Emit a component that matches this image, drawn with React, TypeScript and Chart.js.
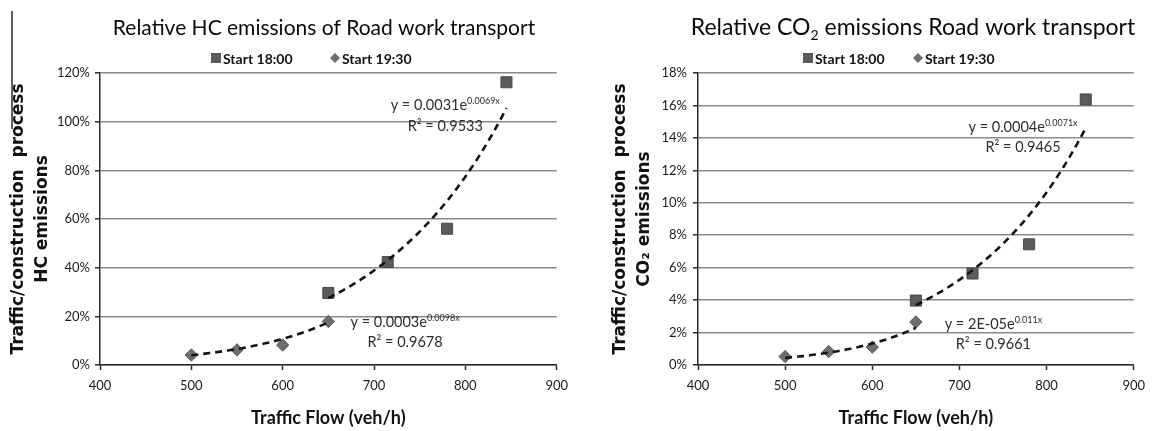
import React, { useEffect, useRef } from 'react';
import { Chart, registerables } from 'chart.js';

Chart.register(...registerables);

// Traffic flow (veh/h) of each measured run
const flowStart1800 = [650, 715, 780, 845];
const flowStart1930 = [500, 550, 600, 650];

// Relative HC emissions (%), traffic / construction process
const hcStart1800 = [29.6, 42.3, 56.0, 116.2];
const hcStart1930 = [4.1, 6.2, 8.2, 17.9];

// Relative CO2 emissions (%), traffic / construction process
const co2Start1800 = [3.97, 5.64, 7.44, 16.37];
const co2Start1930 = [0.52, 0.83, 1.1, 2.65];

// Axis ticks
const flowTicks = [400, 500, 600, 700, 800, 900];
const hcTicks = [0, 20, 40, 60, 80, 100, 120];
const co2Ticks = [0, 2, 4, 6, 8, 10, 12, 14, 16, 18];

// Exponential trend fits y = a·e^(b·x) (y as a fraction)
const hcFit1800 = { a: 0.0031, b: 0.0069, r2: 0.9533 };
const hcFit1930 = { a: 0.0003, b: 0.0098, r2: 0.9678 };
const co2Fit1800 = { a: 0.000375, b: 0.00706, r2: 0.9465 };
const co2Fit1930 = { a: 0.000018, b: 0.011, r2: 0.9661 };

const SQUARE = '#5c5c5c';
const DIAMOND = '#6e6e6e';
const AXIS = '#2a2a2a';
const GRID = '#8a8a8a';

type Fit = { a: number; b: number; r2: number };
type Seg = { t: string; sub?: boolean; sup?: boolean };
type Note = { fit: Fit; x: number; y: number };
type Overlay = {
  title: Seg[];
  titleSize: number;
  titleX: number;
  titleY: number;
  legendX: [number, number];
  legendY: number;
  notes: Note[];
  fractionBar?: boolean;
};

// Excel-style coefficient text
function coef(v: number): string {
  if (v < 1e-4) {
    const [m, e] = v.toExponential(0).split('e');
    const exp = Math.abs(parseInt(e, 10));
    return `${m}E-${String(exp).padStart(2, '0')}`;
  }
  return v.toFixed(4).replace(/0+$/, '');
}

function trendPoints(fit: Fit, flows: number[]) {
  const pts: { x: number; y: number }[] = [];
  const lo = flows[0];
  const hi = flows[flows.length - 1];
  for (let x = lo; x <= hi; x += 5) pts.push({ x, y: 100 * fit.a * Math.exp(fit.b * x) });
  return pts;
}

function drawRich(
  ctx: CanvasRenderingContext2D,
  segs: Seg[],
  cx: number,
  baseline: number,
  size: number,
  weight: string,
  color: string
) {
  const fontFor = (s: Seg) => `${weight} ${s.sub || s.sup ? Math.round(size * 0.62) : size}px Lato`;
  let total = 0;
  const widths = segs.map((s) => {
    ctx.font = fontFor(s);
    const w = ctx.measureText(s.t).width;
    total += w;
    return w;
  });
  let x = cx - total / 2;
  ctx.fillStyle = color;
  ctx.textAlign = 'left';
  ctx.textBaseline = 'alphabetic';
  segs.forEach((s, i) => {
    ctx.font = fontFor(s);
    const dy = s.sub ? size * 0.22 : s.sup ? -size * 0.4 : 0;
    ctx.fillText(s.t, x, baseline + dy);
    x += widths[i];
  });
}

function makeOverlay(o: Overlay) {
  return {
    id: 'overlay',
    afterDraw(chart: any) {
      const ctx: CanvasRenderingContext2D = chart.ctx;
      const xs = chart.scales.x;
      const ys = chart.scales.y;
      ctx.save();

      drawRich(ctx, o.title, o.titleX, o.titleY, o.titleSize, '400', '#0a0a0a');

      chart.data.datasets.slice(0, 2).forEach((ds: any, i: number) => {
        const cx = o.legendX[i];
        const cy = o.legendY;
        ctx.fillStyle = ds.backgroundColor;
        ctx.beginPath();
        if (ds.pointStyle === 'rect') {
          ctx.rect(cx - 5, cy - 5, 10, 10);
        } else {
          ctx.moveTo(cx, cy - 5);
          ctx.lineTo(cx + 5, cy);
          ctx.lineTo(cx, cy + 5);
          ctx.lineTo(cx - 5, cy);
          ctx.closePath();
        }
        ctx.fill();
        ctx.font = 'bold 14px Lato';
        ctx.fillStyle = '#111';
        ctx.textAlign = 'left';
        ctx.textBaseline = 'middle';
        ctx.fillText(ds.label, cx + 7, cy + 1);
      });

      o.notes.forEach((n) => {
        const px = xs.getPixelForValue(n.x);
        const py = ys.getPixelForValue(n.y);
        drawRich(
          ctx,
          [{ t: `y = ${coef(n.fit.a)}e` }, { t: `${coef(n.fit.b)}x`, sup: true }],
          px,
          py,
          14.5,
          '400',
          '#2e2e2e'
        );
        drawRich(ctx, [{ t: `R² = ${n.fit.r2.toFixed(4)}` }], px, py + 20.5, 14.5, '400', '#2e2e2e');
      });

      if (o.fractionBar) {
        ctx.strokeStyle = AXIS;
        ctx.lineWidth = 1.5;
        ctx.beginPath();
        ctx.moveTo(12, 11);
        ctx.lineTo(12, 129);
        ctx.stroke();
      }
      ctx.restore();
    },
  };
}

type Panel = {
  s1800: number[];
  s1930: number[];
  fit1800: Fit;
  fit1930: Fit;
  yTicks: number[];
  yTitle: string[];
  yWidth: number;
  yTitlePad: number;
  yTickPad: number;
  padRight: number;
  overlay: Overlay;
};

function buildConfig(p: Panel): any {
  return {
    type: 'scatter',
    data: {
      datasets: [
        {
          label: 'Start 18:00',
          data: flowStart1800.map((x, i) => ({ x, y: p.s1800[i] })),
          pointStyle: 'rect',
          pointRadius: 7.8,
          pointHoverRadius: 7.8,
          backgroundColor: SQUARE,
          borderColor: '#484848',
          borderWidth: 1,
          order: 2,
        },
        {
          label: 'Start 19:30',
          data: flowStart1930.map((x, i) => ({ x, y: p.s1930[i] })),
          pointStyle: 'rectRot',
          pointRadius: 6.2,
          pointHoverRadius: 6.2,
          backgroundColor: DIAMOND,
          borderColor: '#5a5a5a',
          borderWidth: 1,
          order: 2,
        },
        {
          label: 'Expon. (Start 18:00)',
          data: trendPoints(p.fit1800, flowStart1800),
          showLine: true,
          pointRadius: 0,
          borderColor: '#141414',
          borderWidth: 2.6,
          borderDash: [7, 5],
          fill: false,
          order: 0,
        },
        {
          label: 'Expon. (Start 19:30)',
          data: trendPoints(p.fit1930, flowStart1930),
          showLine: true,
          pointRadius: 0,
          borderColor: '#141414',
          borderWidth: 2.6,
          borderDash: [7, 5],
          fill: false,
          order: 0,
        },
      ],
    },
    options: {
      animation: false,
      responsive: false,
      devicePixelRatio: 1,
      events: [],
      layout: { padding: { left: 0, top: 73, right: p.padRight, bottom: 0 } },
      plugins: { legend: { display: false }, tooltip: { enabled: false }, title: { display: false } },
      scales: {
        x: {
          type: 'linear',
          min: flowTicks[0],
          max: flowTicks[flowTicks.length - 1],
          afterBuildTicks: (s: any) => {
            s.ticks = flowTicks.map((v) => ({ value: v }));
          },
          afterFit: (s: any) => {
            s.height = 66;
          },
          grid: { drawOnChartArea: false, drawTicks: true, tickLength: 5, tickColor: AXIS, tickWidth: 1.5 },
          border: { color: AXIS, width: 1.5 },
          ticks: { font: { family: 'Lato', size: 13 }, color: '#1a1a1a', padding: 8, maxRotation: 0 },
          title: {
            display: true,
            text: 'Traffic Flow (veh/h)',
            font: { family: 'Lato', size: 18, weight: 'bold' },
            color: '#111',
            padding: { top: 0, bottom: 2 },
          },
        },
        y: {
          type: 'linear',
          min: p.yTicks[0],
          max: p.yTicks[p.yTicks.length - 1],
          afterBuildTicks: (s: any) => {
            s.ticks = p.yTicks.map((v) => ({ value: v }));
          },
          afterFit: (s: any) => {
            s.width = p.yWidth;
          },
          grid: { color: GRID, lineWidth: 1.6, drawTicks: true, tickLength: 5, tickColor: AXIS, tickWidth: 1.5 },
          border: { color: AXIS, width: 1.5 },
          ticks: {
            font: { family: 'Lato', size: 13 },
            color: '#1a1a1a',
            padding: p.yTickPad,
            callback: (v: number) => `${v}%`,
          },
          title: {
            display: true,
            text: p.yTitle,
            font: { family: 'DejaVu Sans', size: 17, weight: 'bold', lineHeight: 1.41 },
            color: '#111',
            padding: { top: p.yTitlePad, bottom: 0 },
          },
        },
      },
    },
    plugins: [makeOverlay(p.overlay)],
  };
}

const hcPanel: Panel = {
  s1800: hcStart1800,
  s1930: hcStart1930,
  fit1800: hcFit1800,
  fit1930: hcFit1930,
  yTicks: hcTicks,
  yTitle: ['Traffic/construction  process', 'HC emissions'],
  yWidth: 100,
  yTitlePad: 7,
  yTickPad: 5,
  padRight: 14,
  overlay: {
    title: [{ t: 'Relative HC emissions of Road work transport' }],
    titleSize: 21,
    titleX: 324,
    titleY: 35,
    legendX: [216, 335],
    legendY: 58,
    notes: [
      { fit: hcFit1800, x: 778, y: 104.7 },
      { fit: hcFit1930, x: 734, y: 15.7 },
    ],
    fractionBar: true,
  },
};

const co2Panel: Panel = {
  s1800: co2Start1800,
  s1930: co2Start1930,
  fit1800: co2Fit1800,
  fit1930: co2Fit1930,
  yTicks: co2Ticks,
  yTitle: ['Traffic/construction  process', 'CO₂ emissions'],
  yWidth: 122,
  yTitlePad: 33,
  yTickPad: 6,
  padRight: 18,
  overlay: {
    title: [{ t: 'Relative CO' }, { t: '2', sub: true }, { t: ' emissions Road work transport' }],
    titleSize: 23,
    titleX: 337,
    titleY: 35,
    legendX: [232, 342],
    legendY: 58,
    notes: [
      { fit: co2Fit1800, x: 773, y: 14.39 },
      { fit: co2Fit1930, x: 739, y: 2.23 },
    ],
  },
};

function EmissionChart({ panel, left, width }: { panel: Panel; left: number; width: number }) {
  const ref = useRef<HTMLCanvasElement>(null);
  useEffect(() => {
    if (!ref.current) return;
    const chart = new Chart(ref.current, buildConfig(panel));
    return () => chart.destroy();
  }, [panel]);
  return (
    <canvas
      ref={ref}
      width={width}
      height={431}
      style={{ position: 'absolute', left, top: 0, width, height: 431 }}
    />
  );
}

export default function App() {
  return (
    <div style={{ position: 'fixed', left: 0, top: 0, width: 1153, height: 431, background: '#fff' }}>
      <EmissionChart panel={hcPanel} left={0} width={576} />
      <EmissionChart panel={co2Panel} left={576} width={577} />
    </div>
  );
}
